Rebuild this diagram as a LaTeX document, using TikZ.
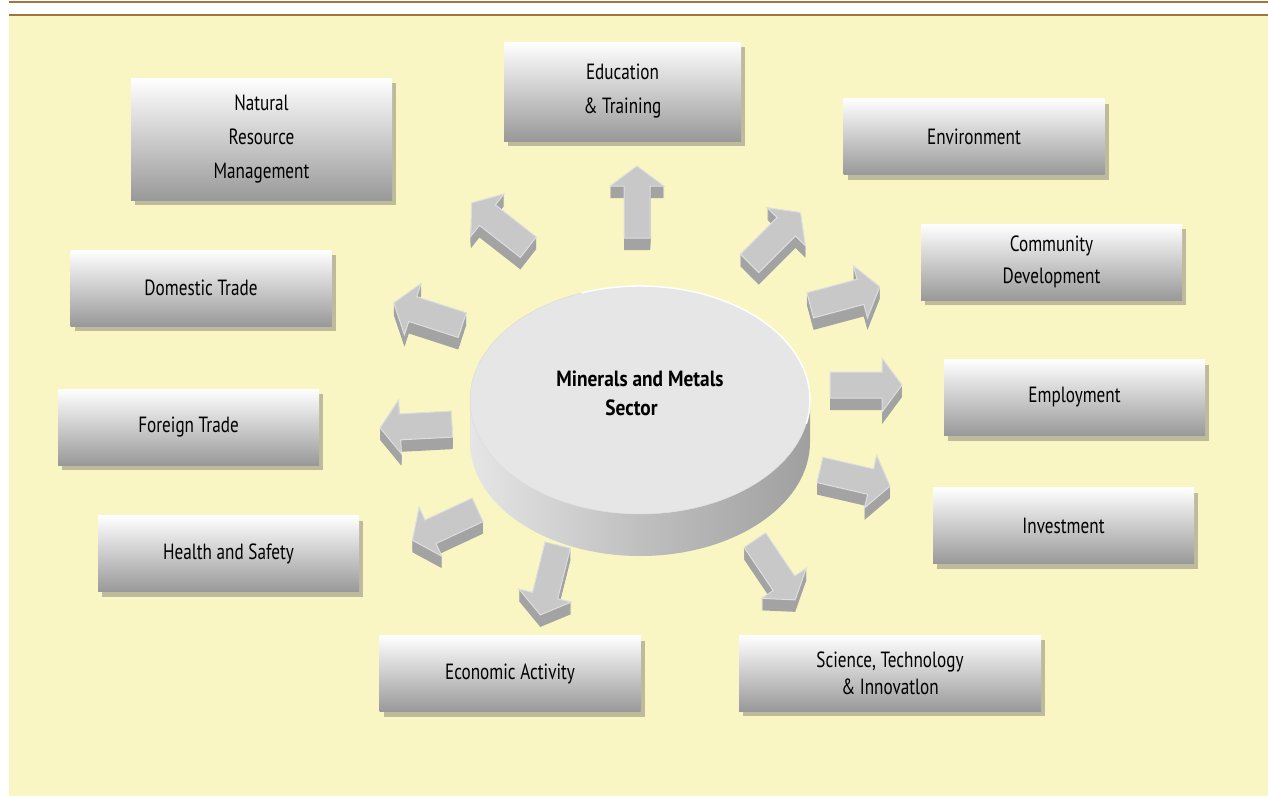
\documentclass[tikz,border=0pt]{standalone}
\usepackage{fontspec}
\setmainfont{PT Sans}[FakeStretch=0.78, BoldFeatures={FakeStretch=0.88}]
\usetikzlibrary{shadows}

\definecolor{bgyellow}{HTML}{F9F6C4}
\definecolor{rulebrown}{HTML}{A4733F}
\definecolor{boxshadow}{HTML}{BDBB9B}
\definecolor{boxbottom}{HTML}{999999}
\definecolor{diskface}{HTML}{E6E6E6}
\definecolor{arrowface}{HTML}{C8C8C8}
\definecolor{arrowside}{HTML}{A3A3A3}
\definecolor{arrowedge}{HTML}{DEDEDE}

\tikzset{
  topic/.style={top color=white, bottom color=boxbottom, minimum width=261pt,
    minimum height=76pt, align=center, inner sep=0pt,
    font=\fontsize{22}{34}\selectfont,
    drop shadow={shadow xshift=4pt, shadow yshift=-5pt, fill=boxshadow, opacity=1}},
  arrowpath/.style={insert path={(-36,-13) -- (16,-13) -- (16,-27) -- (36,0)
    -- (16,27) -- (16,13) -- (-36,13) -- cycle}}
}

\begin{document}
\begin{tikzpicture}[x=1pt, y=-1pt]
        \useasboundingbox (0,0) rectangle (1268,796);
        \fill[white] (0,0) rectangle (1268,796);

        % Background and top rules
        \fill[bgyellow] (9,16) rectangle (1268,796);
        \draw[rulebrown, line width=2pt] (9,2) -- (1268,2);
        \draw[rulebrown, line width=2pt] (9,15) -- (1268,15);

        % Topic boxes
        \node[topic, minimum height=122pt] (natres) at (261.5,139) {Natural\\Resource\\Management};
        \node[topic, minimum width=237pt, minimum height=99pt] (edu) at (622.5,91.5) {Education\\\& Training};
        \node[topic] (env) at (974,136.5) {Environment};
        \node[topic, font=\fontsize{22}{32}\selectfont] (comdev) at (1051.5,262) {Community\\Development};
        \node[topic] (employ) at (1074.5,397.5) {Employment};
        \node[topic] (invest) at (1063.5,525.5) {Investment};
        \node[topic, minimum width=302pt, font=\fontsize{22}{27}\selectfont] (sci) at (890,673) {Science, Technology\\\& Innovatlon};
        \node[topic] (econ) at (510,673.5) {Economic Activity};
        \node[topic] (health) at (228.5,553.5) {Health and Safety};
        \node[topic] (foreign) at (188.5,427) {Foreign Trade};
        \node[topic] (domestic) at (201,288) {Domestic Trade};

        % Central disk
        \shade[left color=gray!20, right color=gray!75, middle color=gray!50]
            (470,400) -- (470,442) arc[start angle=180, end angle=0, x radius=170, y radius=114]
            -- (810,400) arc[start angle=0, end angle=180, x radius=170, y radius=114] -- cycle;
        \filldraw[fill=diskface, draw=gray!30] (640,400) ellipse [x radius=170, y radius=114];
        \draw[white, line width=1.5pt] (640,400) ++(250:170 and 114)
            arc[start angle=250, end angle=372, x radius=170, y radius=114];
        \node[font=\fontsize{22}{29}\selectfont\bfseries, align=center] (hub) at (640,393)
            {Minerals and Metals\\Sector\hspace*{17pt}};

        % Block arrows: centre x / centre y / direction
        \foreach \cx/\cy/\ang in {637/202/90, 775/238/45, 845/296/15, 866/385/0,
                                  855/478/-13, 775/570/-56, 549/580/-104, 445/525/205,
                                  416/426/183, 428/314/162, 500/225/142} {
            \foreach \d in {12,11,...,1}
                \fill[arrowside, shift={(\cx,\cy)}, yshift=-\d pt, rotate=\ang, arrowpath];
            \filldraw[fill=arrowface, draw=arrowedge, line width=1pt,
                shift={(\cx,\cy)}, rotate=\ang, arrowpath];
        }
\end{tikzpicture}
\end{document}
